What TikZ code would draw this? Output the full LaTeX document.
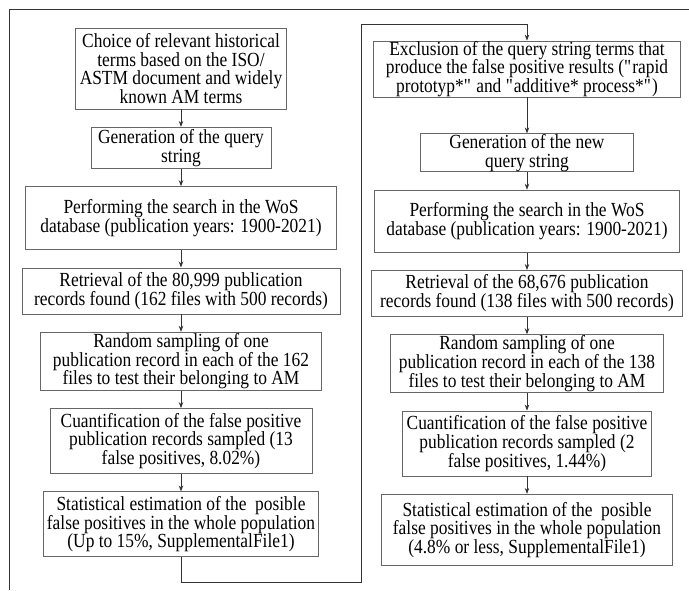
\documentclass[tikz,border=0pt]{standalone}
\usepackage{fontspec}
\setmainfont[FakeStretch=0.87]{Liberation Serif}
\usetikzlibrary{positioning, arrows.meta}

\begin{document}
\begin{tikzpicture}[
    ->, >={Stealth[length=6pt,width=4.5pt]}, node distance=17.5pt,
    line width=0.8pt, draw=black!80,
    stepbox/.style 2 args={draw=black!60, align=center, inner xsep=2pt, inner ysep=0pt,
        minimum width=#1, minimum height=#2,
        font=\fontsize{20}{18.7}\selectfont}
]
    \useasboundingbox (0,0) rectangle (689pt,-590pt);
    \draw[-] (689pt,-9pt) -- (9pt,-9pt) -- (9pt,-590pt);

    % first search
    \node[stepbox={211pt}{81pt}] (B1) at (181pt,-68.5pt)
        {Choice of relevant historical\\terms based on the ISO/\\ASTM document and widely\\known AM terms};
    \node[stepbox={180pt}{41pt}, below=of B1] (B2)
        {Generation of the query\\string};
    \node[stepbox={311pt}{63pt}, below=of B2] (B3)
        {Performing the search in the WoS\\database (publication years: 1900-2021)};
    \node[stepbox={318pt}{46pt}, below=of B3] (B4)
        {Retrieval of the 80,999 publication\\records found (162 files with 500 records)};
    \node[stepbox={281pt}{58pt}, below=of B4] (B5)
        {Random sampling of one\\publication record in each of the 162\\files to test their belonging to AM};
    \node[stepbox={262pt}{65pt}, below=of B5] (B6)
        {Cuantification of the false positive\\publication records sampled (13\\false positives, 8.02\%)};
    \node[stepbox={275pt}{65pt}, below=of B6] (B7)
        {Statistical estimation of the \ posible\\false positives in the whole population\\(Up to 15\%, SupplementalFile1)};

    % second search
    \node[stepbox={307pt}{56pt}] (R1) at (527pt,-69pt)
        {Exclusion of the query string terms that\\produce the false positive results (\textquotedbl rapid\\prototyp*\textquotedbl{} and \textquotedbl additive* process*\textquotedbl)};
    \node[stepbox={213pt}{38pt}, below=36pt of R1] (R2)
        {Generation of the new\\query string};
    \node[stepbox={305pt}{62pt}, below=of R2] (R3)
        {Performing the search in the WoS\\database (publication years: 1900-2021)};
    \node[stepbox={311pt}{46pt}, below=of R3] (R4)
        {Retrieval of the 68,676 publication\\records found (138 files with 500 records)};
    \node[stepbox={273pt}{58pt}, below=of R4] (R5)
        {Random sampling of one\\publication record in each of the 138\\files to test their belonging to AM};
    \node[stepbox={249pt}{65pt}, below=of R5] (R6)
        {Cuantification of the false positive\\publication records sampled (2\\false positives, 1.44\%)};
    \node[stepbox={291pt}{71pt}, below=of R6] (R7)
        {Statistical estimation of the \ posible\\false positives in the whole population\\(4.8\% or less, SupplementalFile1)};

    \coordinate (low) at (361pt,-582pt);
    \coordinate (high) at (361pt,-24pt);

    \path   (B1) edge (B2)
            (B2) edge (B3)
            (B3) edge (B4)
            (B4) edge (B5)
            (B5) edge (B6)
            (B6) edge (B7)
            (R1) edge (R2)
            (R2) edge (R3)
            (R3) edge (R4)
            (R4) edge (R5)
            (R5) edge (R6)
            (R6) edge (R7);

    \draw (B7.south) |- (low) -- (high) -| (R1.north);

\end{tikzpicture}
\end{document}
